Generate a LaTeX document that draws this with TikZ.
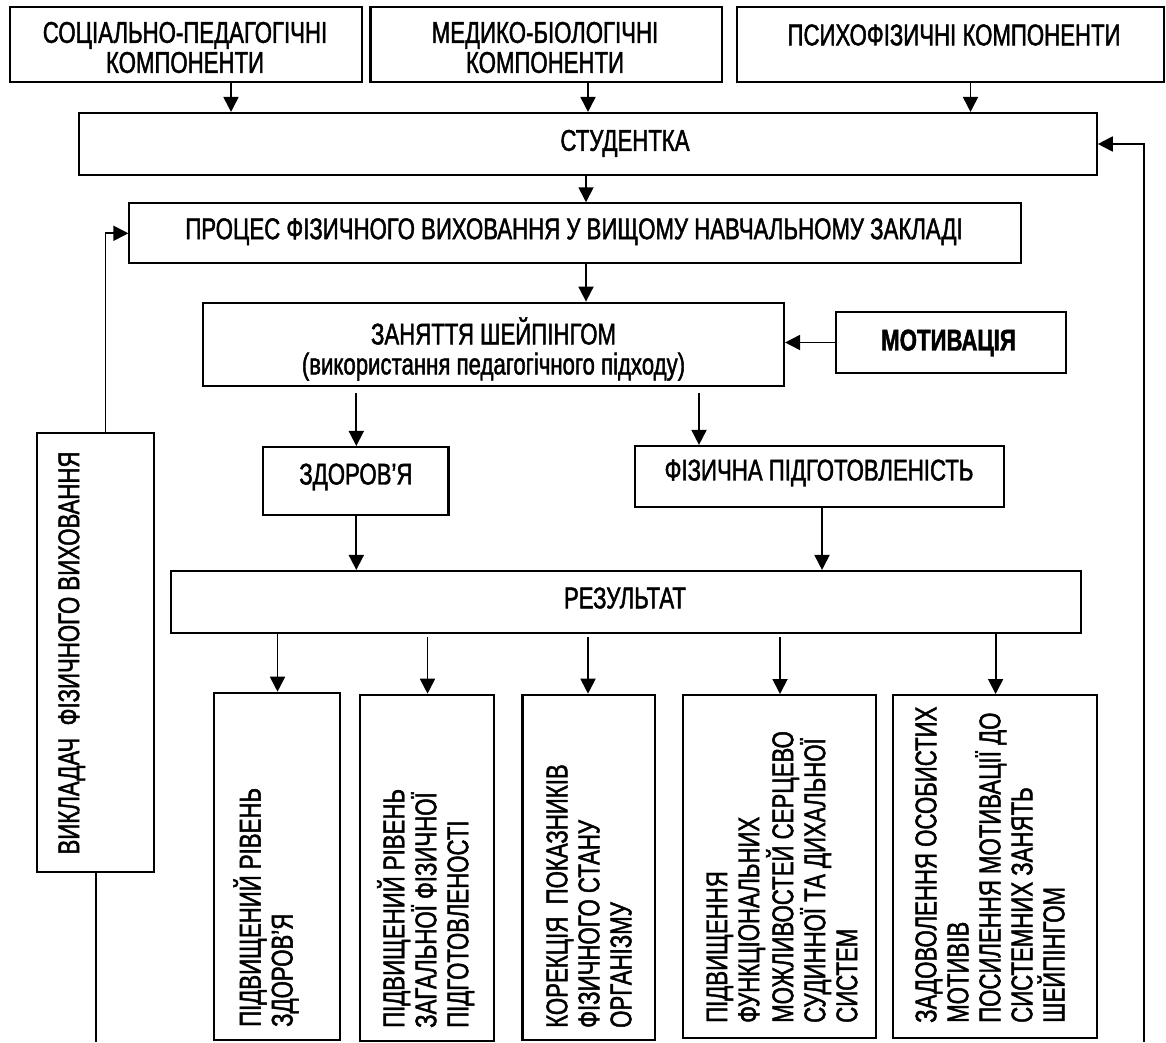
\documentclass[tikz,border=0pt]{standalone}
\usepackage{fontspec}
\setmainfont{Liberation Sans}[FakeStretch=0.74,FakeBold=1.5]
\usetikzlibrary{arrows.meta}
\begin{document}
\begin{tikzpicture}[x=1pt,y=-1pt,
  box/.style={draw, line width=2.1pt, inner sep=0pt},
  lbl/.style={font=\fontsize{30}{30}\selectfont, align=center, inner sep=0pt},
  vlbl/.style={font=\fontsize{30}{32}\selectfont, align=left, inner sep=0pt, rotate=90, anchor=west},
  arr/.style={line width=1.8pt, -{Triangle[length=15pt,width=15pt]}},
  ln/.style={line width=1.8pt}]
\useasboundingbox (0,0) rectangle (1166,1042);
% top row
\node[box, minimum width=352, minimum height=75] (s1) at (185.6,44.2) {};
\node[box, minimum width=351.5, minimum height=75] (s2) at (546.2,44.2) {};
\node[box, minimum width=427, minimum height=75] (s3) at (950.5,44.2) {};
\node[lbl] (s1t) at (185,47.5) {СОЦІАЛЬНО-ПЕДАГОГІЧНІ\\КОМПОНЕНТИ};
\node[lbl] (s2t) at (545,47.5) {МЕДИКО-БІОЛОГІЧНІ\\КОМПОНЕНТИ};
\node[lbl] (s3t) at (954,35) {ПСИХОФІЗИЧНІ КОМПОНЕНТИ};
% student
\node[box, minimum width=1017.5, minimum height=62] (stud) at (588,144) {};
\node[lbl] (studt) at (625,143.3) {СТУДЕНТКА};
% process
\node[box, minimum width=891.4, minimum height=60] (proc) at (575.1,233.3) {};
\node[lbl] (proct) at (574,231.7) {ПРОЦЕС ФІЗИЧНОГО ВИХОВАННЯ У ВИЩОМУ НАВЧАЛЬНОМУ ЗАКЛАДІ};
% shaping
\node[box, minimum width=581.2, minimum height=83.3] (zan) at (493.4,344.3) {};
\node[lbl] (zant) at (493.5,349) {ЗАНЯТТЯ ШЕЙПІНГОМ\\(використання педагогічного підходу)};
% motivation
\node[box, minimum width=230, minimum height=61.6] (mot) at (950.6,342.5) {};
\node[lbl, font=\fontsize{30}{30}\selectfont\bfseries] (mott) at (948.5,343) {МОТИВАЦІЯ};
% health / fitness
\node[box, minimum width=185.5, minimum height=68] (zdor) at (355.7,481) {};
\node[lbl] (zdort) at (355.9,477) {ЗДОРОВ’Я};
\node[box, minimum width=369, minimum height=60.7] (fiz) at (819.5,476.3) {};
\node[lbl] (fizt) at (819,473) {ФІЗИЧНА ПІДГОТОВЛЕНІСТЬ};
% result
\node[box, minimum width=910.3, minimum height=62] (res) at (625.9,602) {};
\node[lbl] (rest) at (625,598) {РЕЗУЛЬТАТ};
% teacher
\node[box, minimum width=117.3, minimum height=438.7] (vykl) at (95.3,652.6) {};
\node[lbl, rotate=90] (vyklt) at (71.7,653) {ВИКЛАДАЧ\ \ ФІЗИЧНОГО ВИХОВАННЯ};
% bottom boxes
\node[box, minimum width=126, minimum height=347.3] (b1) at (277,866.4) {};
\node[box, minimum width=134, minimum height=346.3] (b2) at (426.7,867.9) {};
\node[box, minimum width=132.3, minimum height=345.3] (b3) at (588.6,867.4) {};
\node[box, minimum width=193, minimum height=342.7] (b4) at (779.5,866.4) {};
\node[box, minimum width=203.5, minimum height=342.7] (b5) at (994.8,866.4) {};
\node[vlbl] (b1t) at (266,1027) {ПІДВИЩЕНИЙ РІВЕНЬ\\ЗДОРОВ’Я};
\node[vlbl] (b2t) at (425.7,1028) {ПІДВИЩЕНИЙ РІВЕНЬ\\ЗАГАЛЬНОЇ ФІЗИЧНОЇ\\ПІДГОТОВЛЕНОСТІ};
\node[vlbl] (b3t) at (589,1028) {КОРЕКЦІЯ\ \ ПОКАЗНИКІВ\\ФІЗИЧНОГО СТАНУ\\ОРГАНІЗМУ};
\node[vlbl] (b4t) at (782,1023) {ПІДВИЩЕННЯ\\ФУНКЦІОНАЛЬНИХ\\МОЖЛИВОСТЕЙ СЕРЦЕВО\\СУДИННОЇ ТА ДИХАЛЬНОЇ\\СИСТЕМ};
\node[vlbl] (b5t) at (990,1023) {ЗАДОВОЛЕННЯ ОСОБИСТИХ\\МОТИВІВ\\ПОСИЛЕННЯ МОТИВАЦІЇ ДО\\СИСТЕМНИХ ЗАНЯТЬ\\ШЕЙПІНГОМ};
% x positions of connectors
\coordinate (xa) at (231,0);
\coordinate (xb) at (588,0);
\coordinate (xc) at (970.5,0);
\coordinate (xd) at (586,0);
\coordinate (xe) at (356.3,0);
\coordinate (xf) at (699,0);
\coordinate (xg) at (822,0);
\coordinate (xl) at (105.5,0);
\coordinate (lb) at (96,1042);
\coordinate (rb) at (1144,1042);
\coordinate (r1) at (277.5,0);
\coordinate (r2) at (427.5,0);
\coordinate (r3) at (588,0);
\coordinate (r4) at (780,0);
\coordinate (r5) at (995.6,0);
% connectors
\draw[arr] (s1.south -| xa) -- (stud.north -| xa);
\draw[arr] (s2.south -| xb) -- (stud.north -| xb);
\draw[arr] (s3.south -| xc) -- (stud.north -| xc);
\draw[arr] (stud.south -| xd) -- (proc.north -| xd);
\draw[arr] (proc.south -| xd) -- (zan.north -| xd);
\draw[arr] (mot.west) -- (zan.east |- mot.west);
\draw[arr, shorten <=6pt] (zan.south -| xe) -- (zdor.north -| xe);
\draw[arr, shorten <=6pt] (zan.south -| xf) -- (fiz.north -| xf);
\draw[arr] (zdor.south -| xe) -- (res.north -| xe);
\draw[arr] (fiz.south -| xg) -- (res.north -| xg);
\draw[arr] (res.south -| r1) -- (b1.north -| r1);
\draw[arr, shorten <=3pt] (res.south -| r2) -- (b2.north -| r2);
\draw[arr, shorten <=3pt] (res.south -| r3) -- (b3.north -| r3);
\draw[arr, shorten <=3pt] (res.south -| r4) -- (b4.north -| r4);
\draw[arr] (res.south -| r5) -- (b5.north -| r5);
\draw[arr] (vykl.north -| xl) |- (proc.west);
\draw[ln] (vykl.south -| lb) -- (lb);
\draw[arr] (rb) |- (stud.east);
\end{tikzpicture}
\end{document}
